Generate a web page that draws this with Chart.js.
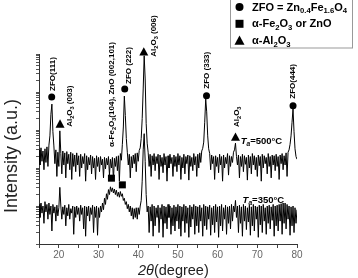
<!DOCTYPE html>
<html lang="en">
<head>
<meta charset="UTF-8">
<title>XRD</title>
<style>body{margin:0;background:#fff}</style>
</head>
<body>
<canvas id="chartId" width="358" height="278"></canvas>
<script src="https://cdn.jsdelivr.net/npm/chart.js@4.4.0/dist/chart.umd.min.js"></script>
<script>
// scan grid: 15..80 deg, 0.25 deg steps
const startAngle = 15, stepAngle = 0.25;

// intensity (counts, log axis), T_a = 500 C
const anneal500 = [
  300,120,340,150,280,90,320,140,360,110,400,700,2600,4800,900,380,130,300,60,260,
  110,950,240,70,280,120,250,55,270,130,230,90,260,50,240,110,220,80,250,120,
  210,60,230,100,200,130,240,45,210,90,190,120,220,70,200,100,180,50,210,110,
  190,80,200,120,170,55,190,95,180,120,200,65,170,100,190,48,180,110,200,85,
  210,45,240,160,420,1200,7800,2400,600,260,120,230,55,200,100,220,130,240,80,250,
  150,290,340,600,2000,12000,90000,22000,1500,450,260,110,230,60,210,120,240,85,200,130,
  230,50,220,110,190,75,240,120,200,45,210,100,230,130,190,60,220,110,200,80,
  240,120,210,50,190,100,230,70,200,130,220,48,210,110,190,85,240,120,200,60,
  230,100,250,140,280,330,480,1600,6500,3000,700,320,240,90,220,130,200,50,210,110,
  190,75,230,120,200,45,220,100,190,130,240,65,210,110,200,140,260,300,450,200,
  120,220,55,200,110,230,80,210,125,190,48,220,100,200,70,240,120,210,90,190,
  60,220,115,200,45,230,100,210,130,190,70,240,110,200,55,220,120,210,85,230,
  110,200,50,220,130,240,90,210,120,250,60,260,300,420,700,1600,3600,900,320,200,
  170
];

// intensity (counts, log axis), T_a = 350 C
const anneal350 = [
  11,5,12,6.5,10,3.5,13,7,11,4.5,12,6,10,2.2,11,6.5,9.5,4,10.5,5.5,
  9,31,10,4.5,9.5,6,10.5,3,9,5.5,11,4.5,8.5,6.5,10,1.8,9.5,5,10,6,
  9,4,10.5,6,9,2.5,10,1.6,9.5,5.5,10,4,9,6,10.5,2,9.5,5,10,1.7,
  9,5,10,7,12,8,16,11,21,15,27,20,32,24,30,22,28,20,26,18,
  23,17,24,18,21,14,16,11,13,8.5,11,7,10,5.5,9,4.5,8.5,5,9,4.5,
  9,6,10,14,45,300,800,150,20,7,10,2,9.5,4,11,1.6,10,3,9,5,
  10.5,2,9,4.5,11,1.5,10,3.5,9.5,2.5,11,5,10,1.8,9,3,10.5,2.2,9.5,4,
  11,2.5,10,1.6,9.5,4,11,2,10,3.5,9,1.5,10.5,2.8,9.5,4.5,11,1.8,10,3,
  9.5,2,10.5,4,9,1.6,11,3,10,2.4,9.5,4.5,10.5,1.7,9,3.2,10,2,11,3.8,
  9.5,1.5,10,3,11,2.2,9,4.5,10.5,1.8,9.5,3.5,10,2.5,11,4,10,7,14,5,
  10,2,10.5,3.5,9.5,1.6,11,4,10,2.4,9,3.8,10.5,1.7,9.5,3,11,2.2,10,4.5,
  9.5,1.5,10.5,3.2,10,2,11,4,9,1.8,10,3.5,10.5,2.5,9.5,4.2,11,1.6,10,3,
  10.5,2.2,11,4,11.5,1.8,12,3.5,12,2.5,11,4.5,10,1.7,9.5,3,10,2,9,3.5,
  8
];

// peak markers: [shape, angle, level, label parts, dx, dy]
const sub = t => [t, 'sub'];
const peakMarks = [
  ['circle', 18.2, 7400, [['ZFO(111)']], 1.5, -6],
  ['triangle', 20.3, 1450, [['Al'], sub('2'), ['O'], sub('3'), [' (003)']], 10, 3],
  [null, 33.4, 357, [['α-Fe'], sub('2'), ['O'], sub('3'), ['(104), ZnO (002,101)']], 0, 0],
  ['circle', 36.6, 12000, [['ZFO (222)']], 4.5, -5],
  ['triangle', 41.4, 115000, [['Al'], sub('2'), ['O'], sub('3'), [' (006)']], 10.5, 5],
  ['circle', 57.2, 8000, [['ZFO (333)']], 0, -7],
  ['triangle', 64.5, 655, [['Al'], sub('2'), ['O'], sub('3')], 1.5, -10],
  ['circle', 79.0, 4360, [['ZFO(444)']], 0, -7],
  ['square', 33.25, 54, null, 0, 0],
  ['square', 36.0, 36, null, 0, 0]
];
const tempLabels = [
  [65.8, 513, [['T', 'it'], ['a', 'itsub'], ['=500°C']]],
  [66.3, 14.4, [['T', 'it'], ['a', 'itsub'], ['=350°C']]]
];
const legendItems = [
  ['circle', [['ZFO = Zn'], sub('0.4'), ['Fe'], sub('1.6'), ['O'], sub('4')]],
  ['square', [['α-Fe'], sub('2'), ['O'], sub('3'), [' or ZnO']]],
  ['triangle', [['α-Al'], sub('2'), ['O'], sub('3')]]
];

const FAM = 'Arial, "Liberation Sans", sans-serif';
const toPoints = arr => arr.map((v, i) => ({x: startAngle + i * stepAngle, y: v}));

function drawRich(ctx, parts, x, y, size, weight) {
  let cx = x;
  parts.forEach(([t, kind]) => {
    const small = kind === 'sub' || kind === 'itsub';
    const it = kind === 'it' || kind === 'itsub';
    const fs = small ? size * 0.7 : size;
    ctx.font = (it ? 'italic ' : '') + weight + ' ' + fs + 'px ' + FAM;
    ctx.fillText(t, cx, y + (small ? size * 0.3 : 0));
    cx += ctx.measureText(t).width;
  });
}

function mark(ctx, shape, x, y, s) {
  ctx.beginPath();
  if (shape === 'circle') ctx.arc(x, y, s / 2, 0, Math.PI * 2);
  else if (shape === 'square') ctx.rect(x - s / 2, y - s / 2, s, s);
  else { ctx.moveTo(x, y - s / 2); ctx.lineTo(x + s / 2, y + s * 0.42); ctx.lineTo(x - s / 2, y + s * 0.42); ctx.closePath(); }
  ctx.fill();
}

const annotate = {
  id: 'annotate',
  afterDraw(chart) {
    const {ctx, scales: {x, y}} = chart;
    ctx.save();
    ctx.fillStyle = '#000';
    ctx.textBaseline = 'middle';
    ctx.textAlign = 'left';

    peakMarks.forEach(([shape, ang, lvl, parts, dx, dy]) => {
      const px = x.getPixelForValue(ang), py = y.getPixelForValue(lvl);
      if (shape) mark(ctx, shape, px, py, shape === 'circle' ? 7 : shape === 'square' ? 7 : 9);
      if (parts) {
        ctx.save();
        ctx.translate(px + dx, py + dy);
        ctx.rotate(-Math.PI / 2);
        drawRich(ctx, parts, 0, 0, 8, 'bold');
        ctx.restore();
      }
    });

    tempLabels.forEach(([ang, lvl, parts]) => {
      drawRich(ctx, parts, x.getPixelForValue(ang), y.getPixelForValue(lvl), 9.5, 'bold');
    });

    // legend box
    ctx.fillStyle = '#fff';
    ctx.fillRect(231, -1, 122, 49);
    ctx.strokeStyle = '#999';
    ctx.lineWidth = 1;
    ctx.strokeRect(230.5, -0.5, 122, 48.5);
    ctx.fillStyle = '#000';
    legendItems.forEach(([shape, parts], i) => {
      const ly = 7 + i * 16.8;
      mark(ctx, shape, 239.5, ly, shape === 'triangle' ? 10 : 8);
      drawRich(ctx, parts, 252, ly + 0.5, 11, 'bold');
    });

    // axis titles
    ctx.fillStyle = '#222';
    drawRich(ctx, [['2θ', 'it'], ['(degree)']], 138, 271, 14.5, 'normal');
    ctx.save();
    ctx.translate(12, 213);
    ctx.rotate(-Math.PI / 2);
    drawRich(ctx, [['Intensity (a.u.)']], 0, 0, 18, 'normal');
    ctx.restore();
    ctx.restore();
  }
};

const ctx = document.getElementById('chartId').getContext('2d');
new Chart(ctx, {
  type: 'line',
  data: {
    datasets: [
      {label: '500', data: toPoints(anneal500), borderColor: '#000', borderWidth: 1, pointRadius: 0, fill: false, tension: 0},
      {label: '350', data: toPoints(anneal350), borderColor: '#000', borderWidth: 1, pointRadius: 0, fill: false, tension: 0}
    ]
  },
  options: {
    responsive: false,
    animation: false,
    layout: {padding: {left: 36, right: 61, top: 54, bottom: 16}},
    plugins: {legend: {display: false}, tooltip: {enabled: false}},
    scales: {
      x: {
        type: 'linear', min: 15, max: 80,
        ticks: {stepSize: 5, autoSkip: false, maxRotation: 0, padding: 1, color: '#666',
          font: {size: 10, family: FAM}, callback: v => (v % 10 === 0 ? v : '')},
        grid: {drawOnChartArea: false, tickLength: 4, color: '#444'},
        border: {color: '#333'}
      },
      y: {
        type: 'logarithmic', min: 1, max: 100000,
        ticks: {display: false},
        afterBuildTicks: s => {
          s.ticks = s.ticks.filter(t => {
            const m = t.value / Math.pow(10, Math.floor(Math.log10(t.value)));
            return Math.abs(m - 1.5) > 0.01;
          });
        },
        grid: {drawOnChartArea: false, tickLength: 3, color: '#555'},
        border: {color: '#333'}
      }
    }
  },
  plugins: [annotate]
});
</script>
</body>
</html>
